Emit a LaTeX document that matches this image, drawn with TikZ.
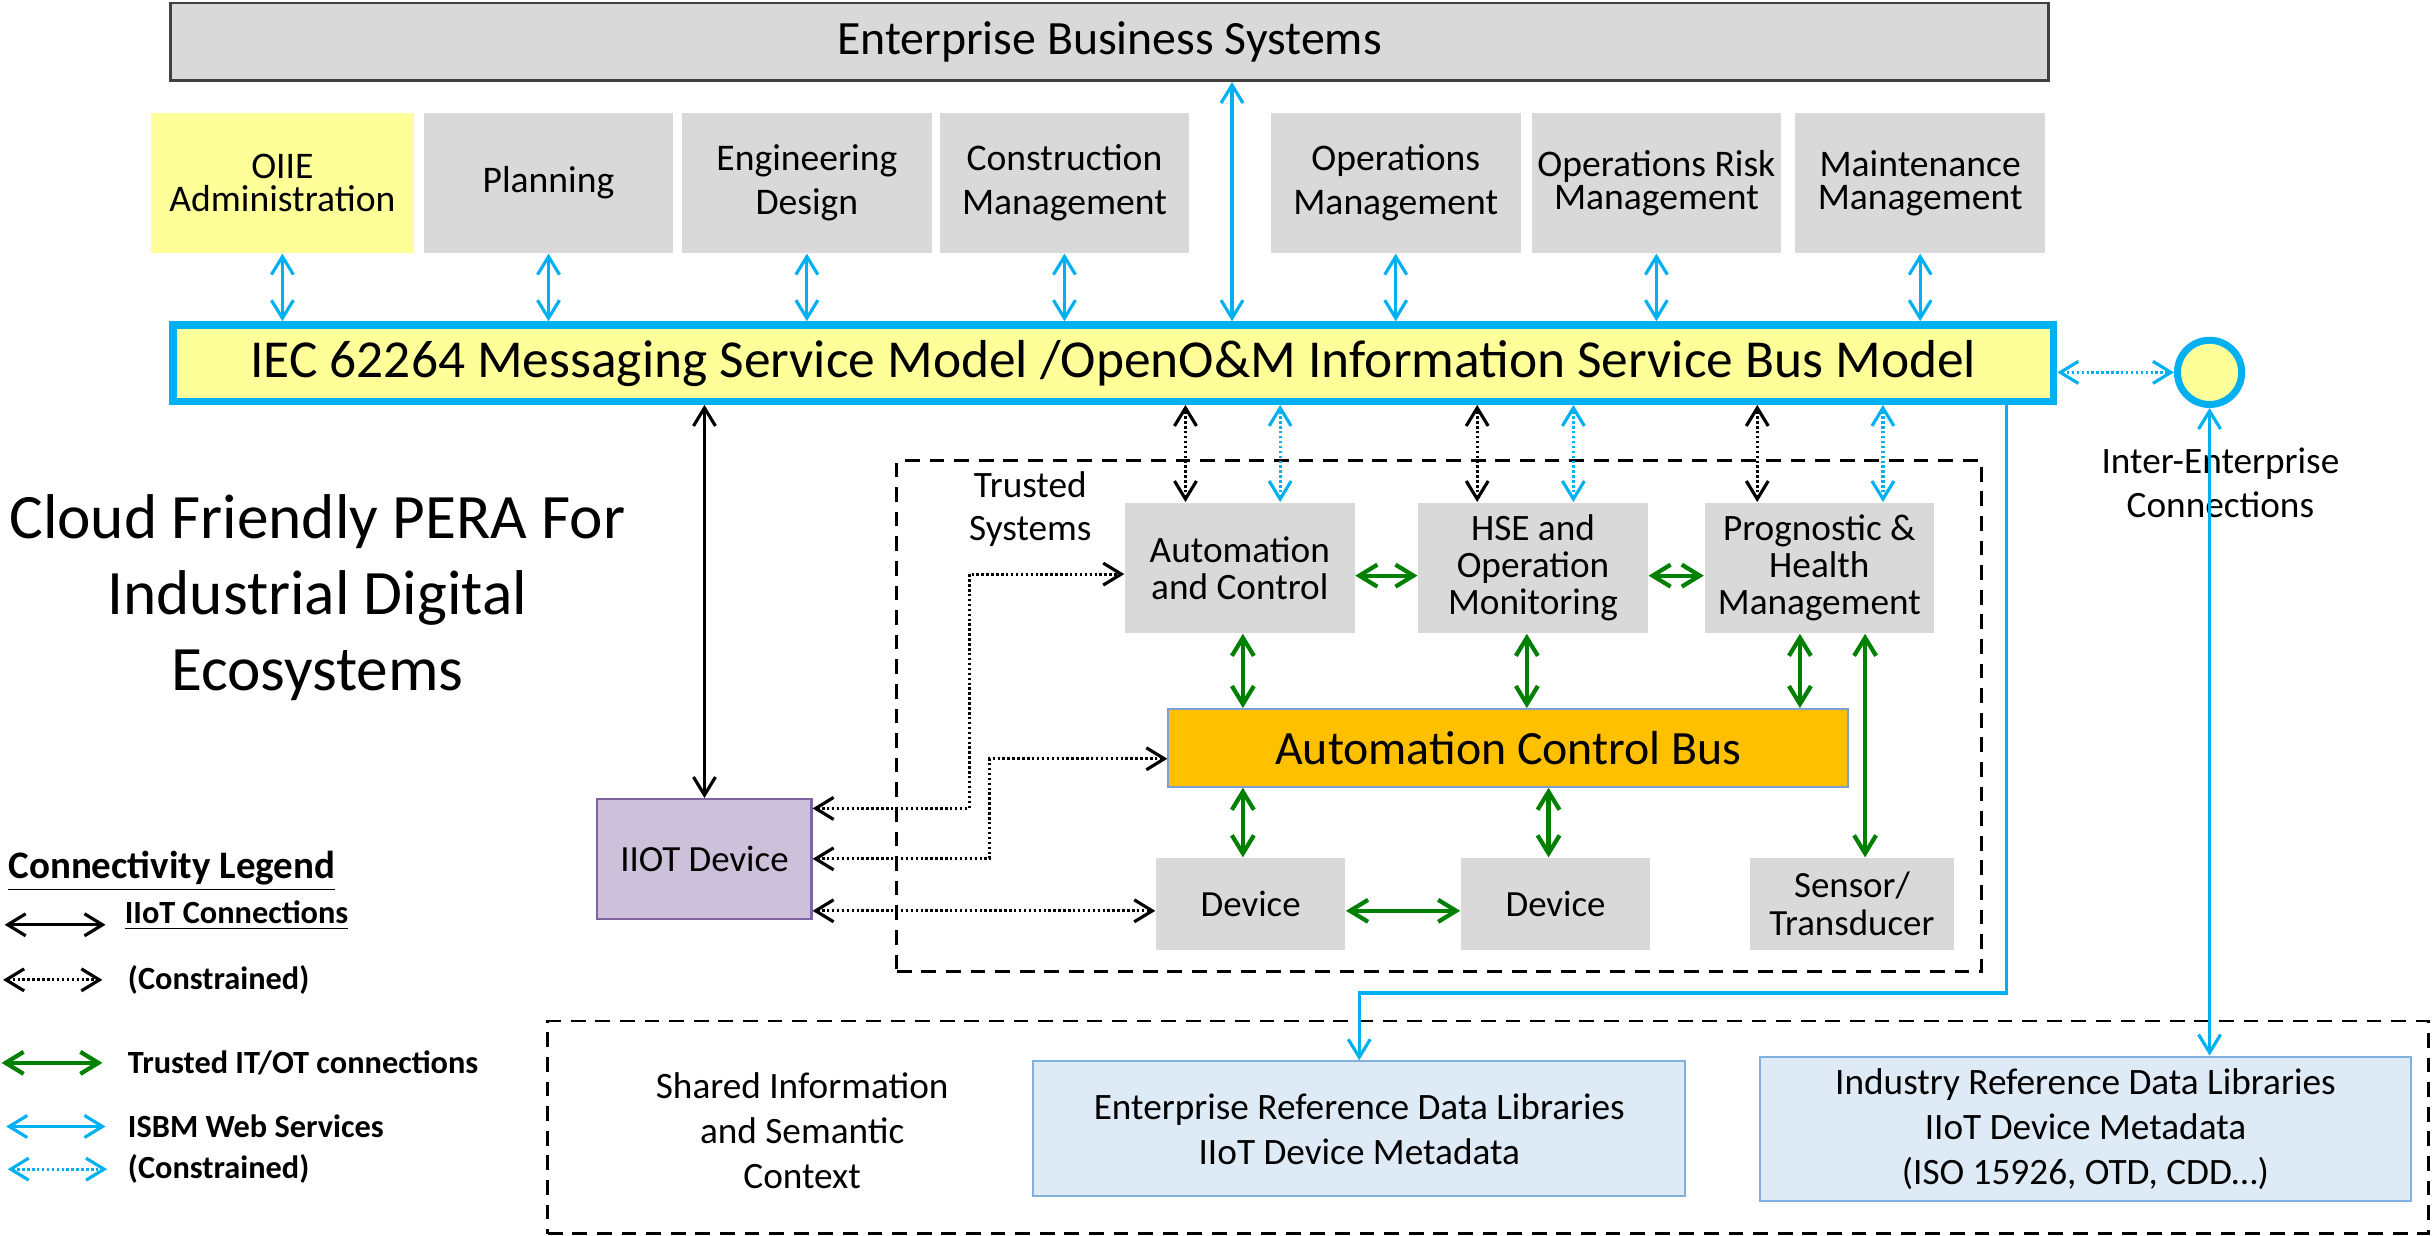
\documentclass[tikz,border=0pt]{standalone}
\usepackage{fontspec}
\setmainfont{Carlito}
\usetikzlibrary{arrows.meta, positioning}
\definecolor{boxgray}{HTML}{D9D9D9}
\definecolor{paleyellow}{HTML}{FFFF99}
\definecolor{isbmblue}{HTML}{00B0F0}
\definecolor{trustgreen}{HTML}{008000}
\definecolor{busorange}{HTML}{FFC000}
\definecolor{busedge}{HTML}{7F9FCF}
\definecolor{iiotfill}{HTML}{CCC0DA}
\definecolor{iiotedge}{HTML}{8064A2}
\definecolor{reffill}{HTML}{DEEBF7}
\definecolor{refedge}{HTML}{7FB0E0}
\definecolor{edgegray}{HTML}{404040}
\newlength{\dd}
\setlength{\dd}{0.015517cm}

\begin{document}
\begin{tikzpicture}[
    x=\dd, y=-\dd,
    >={Straight Barb[length=1.8mm,width=2.2mm]},
    sysbox/.style={fill=boxgray, inner sep=1pt, align=center,
        minimum width=161\dd, minimum height=90\dd,
        font=\fontsize{10.7}{12.5}\selectfont},
    tightbox/.style={sysbox, font=\fontsize{10.7}{9.4}\selectfont},
    trustbox/.style={fill=boxgray, inner sep=1pt, align=center,
        minimum width=148\dd, minimum height=84\dd,
        font=\fontsize{10.6}{10.6}\selectfont},
    devbox/.style={fill=boxgray, inner sep=1pt, align=center,
        minimum width=122\dd, minimum height=59\dd,
        font=\fontsize{10.5}{10.6}\selectfont},
    refbox/.style={fill=reffill, draw=refedge, line width=0.6pt, align=center,
        minimum width=420\dd, minimum height=87\dd,
        font=\fontsize{10.6}{12.8}\selectfont},
    frame/.style={draw=black, line width=0.8pt, dash pattern=on 4.2pt off 2.8pt},
    plaintext/.style={inner sep=0pt, align=center, font=\fontsize{10.6}{12.5}\selectfont},
    legendtext/.style={inner sep=0pt, anchor=west, font=\fontsize{9.2}{10}\selectfont\bfseries},
    isbm/.style={<->, draw=isbmblue, line width=0.9pt},
    isbmdot/.style={isbm, dash pattern=on 0.7pt off 0.7pt},
    iiot/.style={<->, draw=black, line width=0.9pt},
    iiotdot/.style={iiot, dash pattern=on 0.7pt off 0.7pt},
    trustlink/.style={<->, draw=trustgreen, line width=1.2pt}
]
\useasboundingbox (0,0) rectangle (1568,796);

% Enterprise level
\node[fill=boxgray, draw=edgegray, line width=0.8pt,
    minimum width=1210\dd, minimum height=50\dd,
    font=\fontsize{13.6}{15}\selectfont] (ebs) at (715,27) {Enterprise Business Systems};

% Enterprise applications
\node[tightbox, fill=paleyellow, minimum width=170\dd] (oiie) at (182,118) {OIIE\\Administration};
\node[sysbox] (plan) at (353.5,118) {Planning};
\node[sysbox] (eng) at (520,118) {Engineering\\Design};
\node[sysbox] (cons) at (686,118) {Construction\\Management};
\node[sysbox] (ops) at (899.5,118) {Operations\\Management};
\node[tightbox] (risk) at (1067.5,118) {Operations Risk\\Management};
\node[tightbox] (maint) at (1237.5,118) {Maintenance\\Management};

% Service bus
\node[fill=paleyellow, draw=isbmblue, line width=2.1pt,
    minimum width=1212\dd, minimum height=49.2\dd,
    font=\fontsize{15.2}{17}\selectfont] (bus) at (717.5,234)
    {IEC 62264 Messaging Service Model /OpenO\&M Information Service Bus Model};
\node[circle, fill=paleyellow, draw=isbmblue, line width=2pt,
    minimum size=41.4\dd, inner sep=0pt] (gate) at (1424,240) {};
\node[plaintext] (gatelabel) at (1431,311) {Inter-Enterprise\\Connections};

\foreach \app in {oiie, plan, eng, cons, ops, risk, maint}
    \draw[isbm] (\app.south) -- (\app.south |- bus.north);
\draw[isbm] ([xshift=79\dd]ebs.south) -- ([xshift=79\dd]ebs.south |- bus.north);
\draw[isbmdot] (gate.west -| bus.east) -- (gate.west);

% Title
\node[inner sep=0pt, align=center, font=\fontsize{18}{21.6}\selectfont] (title) at (204.5,385)
    {Cloud Friendly PERA For\\Industrial Digital\\Ecosystems};

% Trusted systems
\node[frame, minimum width=699\dd, minimum height=329\dd] (trusted) at (927.5,461.5) {};
\node[plaintext, font=\fontsize{10.6}{12.3}\selectfont] (trustlabel) at (664,328) {Trusted\\Systems};
\node[trustbox] (auto) at (799,366) {Automation\\and Control};
\node[trustbox] (hse) at (988,366) {HSE and\\Operation\\Monitoring};
\node[trustbox] (phm) at (1172.5,366) {Prognostic \&\\Health\\Management};
\node[fill=busorange, draw=busedge, line width=0.6pt,
    minimum width=438\dd, minimum height=50\dd,
    font=\fontsize{13.6}{15}\selectfont] (acb) at (972,482) {Automation Control Bus};
\node[devbox] (dev1) at (806,582.5) {Device};
\node[devbox] (dev2) at (1002.5,582.5) {Device};
\node[devbox, minimum width=131\dd] (sensor) at (1193.5,582.5) {Sensor/\\Transducer};

\draw[iiotdot] ([xshift=-35\dd]auto.north) -- ([xshift=-35\dd]auto.north |- bus.south);
\draw[isbmdot] ([xshift=26\dd]auto.north) -- ([xshift=26\dd]auto.north |- bus.south);
\draw[iiotdot] ([xshift=-36\dd]hse.north) -- ([xshift=-36\dd]hse.north |- bus.south);
\draw[isbmdot] ([xshift=26\dd]hse.north) -- ([xshift=26\dd]hse.north |- bus.south);
\draw[iiotdot] ([xshift=-40\dd]phm.north) -- ([xshift=-40\dd]phm.north |- bus.south);
\draw[isbmdot] ([xshift=41\dd]phm.north) -- ([xshift=41\dd]phm.north |- bus.south);

\draw[trustlink] ([yshift=-5\dd]auto.east) -- ([yshift=-5\dd]hse.west);
\draw[trustlink] ([yshift=-5\dd]hse.east) -- ([yshift=-5\dd]phm.west);
\draw[trustlink] ([xshift=2\dd]auto.south) -- ([xshift=2\dd]auto.south |- acb.north);
\draw[trustlink] ([xshift=-4\dd]hse.south) -- ([xshift=-4\dd]hse.south |- acb.north);
\draw[trustlink] ([xshift=-12.5\dd]phm.south) -- ([xshift=-12.5\dd]phm.south |- acb.north);
\draw[trustlink] ([xshift=29.5\dd]phm.south) -- ([xshift=29.5\dd]phm.south |- sensor.north);
\draw[trustlink] ([xshift=-5\dd]dev1.north |- acb.south) -- ([xshift=-5\dd]dev1.north);
\draw[trustlink] ([xshift=-4.5\dd]dev2.north |- acb.south) -- ([xshift=-4.5\dd]dev2.north);
\draw[trustlink] ([yshift=-4.5\dd]dev1.east) -- ([yshift=-4.5\dd]dev2.west);

% IIoT device
\node[fill=iiotfill, draw=iiotedge, line width=0.6pt,
    minimum width=138\dd, minimum height=77\dd,
    font=\fontsize{10.5}{12}\selectfont] (iiot) at (454,553.5) {IIOT Device};
\draw[iiot] (iiot.north) -- (iiot.north |- bus.south);
\draw[iiotdot] ([yshift=32.5\dd]iiot.east) -- ++(101\dd,0pt) |- ([yshift=-4\dd]auto.west);
\draw[iiotdot] (iiot.east) -- ++(114\dd,0pt) |- ([yshift=-7\dd]acb.west);
\draw[iiotdot] ([yshift=-33.5\dd]iiot.east) -- ([yshift=-33.5\dd]iiot.east -| dev1.west);

% Shared information
\node[frame, minimum width=1212\dd, minimum height=137\dd] (shared) at (959,726.5) {};
\node[plaintext, font=\fontsize{10.6}{12.8}\selectfont] (sharedlabel) at (517,729)
    {Shared Information\\and Semantic\\Context};
\node[refbox] (eref) at (876,727.5) {Enterprise Reference Data Libraries\\IIoT Device Metadata};
\node[refbox] (iref) at (1344,727.5) {Industry Reference Data Libraries\\IIoT Device Metadata\\(ISO 15926, OTD, CDD…)};

\coordinate (busdrop) at (1293,640);
\draw[->, isbmblue, line width=0.9pt] ([xshift=575.5\dd]bus.south) -- (busdrop) -| (eref.north);
\draw[isbm] (gate.south) -- (gate.south |- iref.north);

% Legend
\node[inner sep=0pt, anchor=base west, font=\fontsize{11.1}{13}\selectfont\bfseries] (legend) at (5,566)
    {\underline{Connectivity Legend}};
\coordinate (l1a) at (3,596);    \coordinate (l1b) at (68,596);
\coordinate (l2a) at (2,631.5);  \coordinate (l2b) at (66,631.5);
\coordinate (l3a) at (1,685);    \coordinate (l3b) at (66,685);
\coordinate (l4a) at (4,726);    \coordinate (l4b) at (68,726);
\coordinate (l5a) at (5,753.5);  \coordinate (l5b) at (69,753.5);
\draw[iiot] (l1a) -- (l1b);
\draw[iiotdot] (l2a) -- (l2b);
\draw[trustlink] (l3a) -- (l3b);
\draw[isbm] (l4a) -- (l4b);
\draw[isbmdot] (l5a) -- (l5b);
\node[legendtext, right=12\dd of l1b, yshift=6\dd] (lg1) {\underline{IIoT Connections}};
\node[legendtext, right=16\dd of l2b] (lg2) {(Constrained)};
\node[legendtext, right=16\dd of l3b] (lg3) {Trusted IT/OT connections};
\node[legendtext, right=14\dd of l4b] (lg4) {ISBM Web Services};
\node[legendtext, right=13\dd of l5b] (lg5) {(Constrained)};
\end{tikzpicture}
\end{document}
